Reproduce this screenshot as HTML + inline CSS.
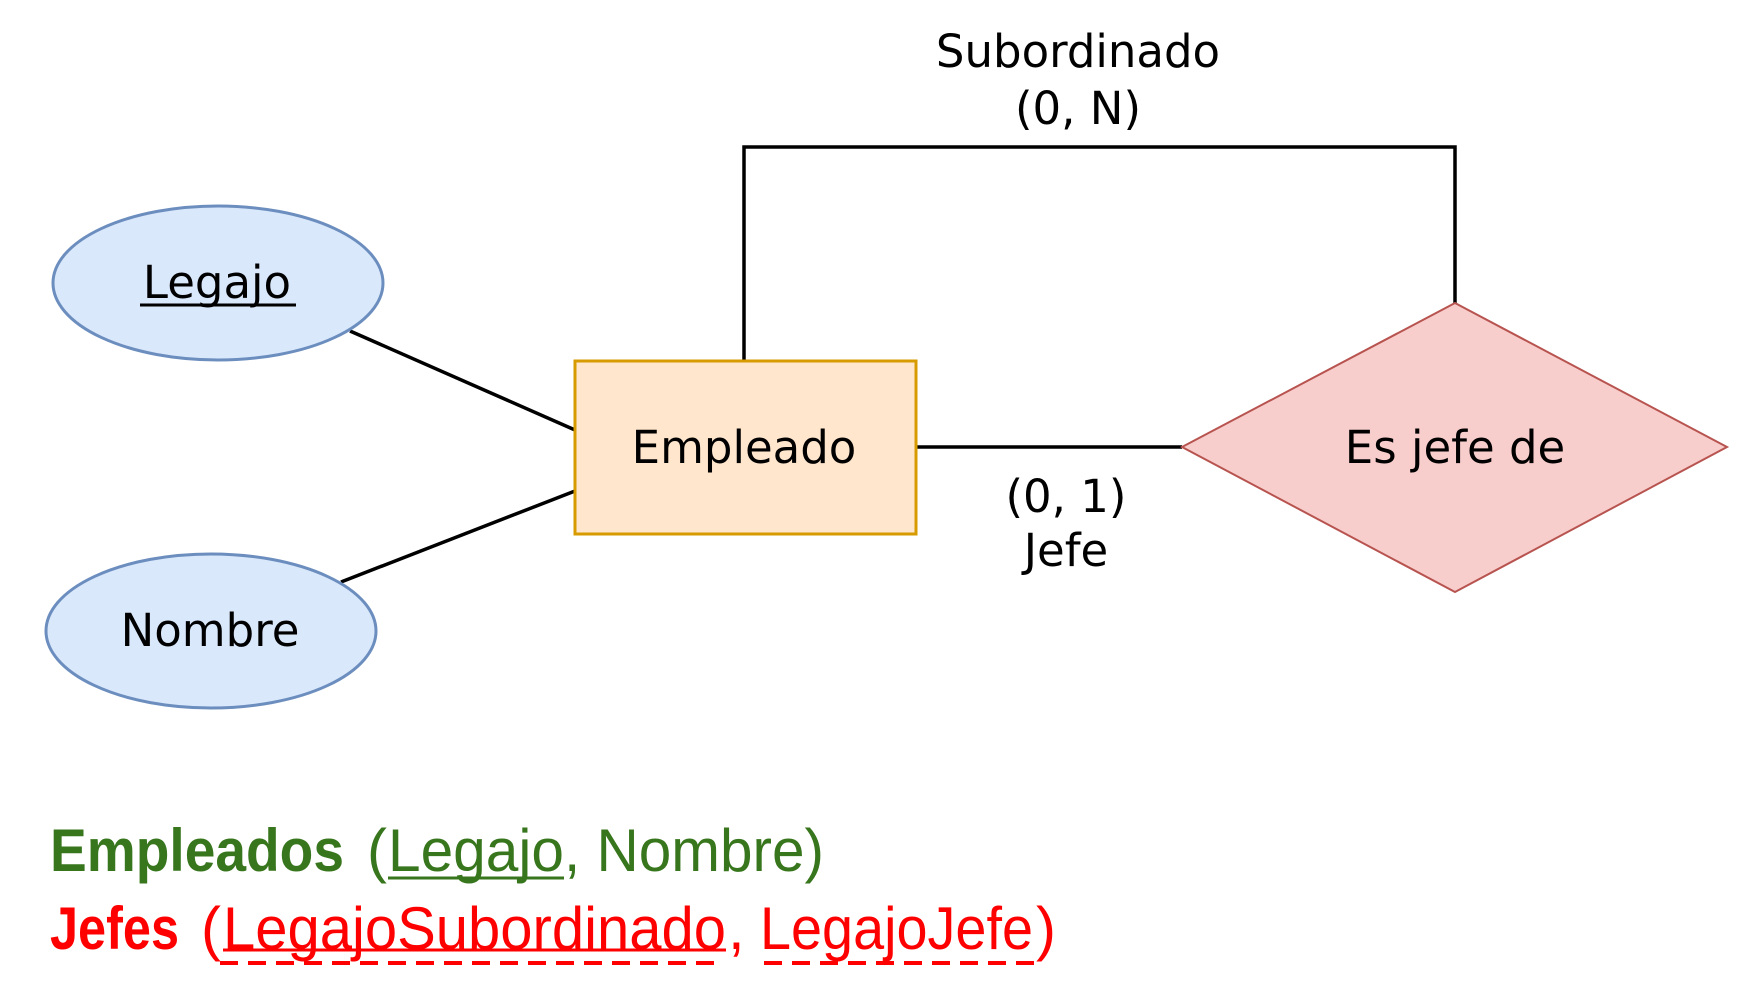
<!DOCTYPE html>
<html><head><meta charset="utf-8"><style>html,body{margin:0;padding:0;background:#fff}svg{display:block}</style></head>
<body>
<svg width="1743" height="997" viewBox="0 0 1743 997" xmlns="http://www.w3.org/2000/svg">
<g stroke="#000" stroke-width="3.5" fill="none">
<polyline points="744,361 744,147 1455,147 1455,303"/>
<line x1="916" y1="447" x2="1182" y2="447"/>
<line x1="350" y1="331" x2="575" y2="430"/>
<line x1="341" y1="582" x2="575" y2="491"/>
</g>
<ellipse cx="218" cy="283" rx="165" ry="77" fill="#dae8fc" stroke="#6c8ebf" stroke-width="3"/>
<ellipse cx="211" cy="631" rx="165" ry="77" fill="#dae8fc" stroke="#6c8ebf" stroke-width="3"/>
<rect x="575" y="361" width="341" height="173" fill="#ffe6cc" stroke="#d79b00" stroke-width="3"/>
<polygon points="1182,447 1455,303 1727,447 1455,592" fill="#f8cecc" stroke="#b85450" stroke-width="2"/>
<g font-family="DejaVu Sans, Verdana, sans-serif" font-size="45" text-anchor="middle" fill="#000">
<text x="217" y="298">Legajo</text>
<line x1="140" y1="305" x2="296" y2="305" stroke="#000" stroke-width="3"/>
<text x="210" y="646">Nombre</text>
<text x="744" y="463">Empleado</text>
<text x="1455" y="463">Es jefe de</text>
<text x="1078" y="67">Subordinado</text>
<text x="1078" y="124">(0, N)</text>
<text x="1066" y="512">(0, 1)</text>
<text x="1066" y="566">Jefe</text>
</g>
<g font-family="Liberation Sans, sans-serif" font-size="60">
<text y="871" fill="#38761d"><tspan x="50" font-weight="bold" textLength="294" lengthAdjust="spacingAndGlyphs">Empleados</tspan><tspan x="367">(</tspan><tspan x="388" textLength="176" lengthAdjust="spacingAndGlyphs">Legajo</tspan><tspan x="564" textLength="260" lengthAdjust="spacingAndGlyphs">, Nombre)</tspan></text>
<line x1="388" y1="878" x2="564" y2="878" stroke="#38761d" stroke-width="3"/>
<text y="949" fill="#ff0000"><tspan x="50" font-weight="bold" textLength="129" lengthAdjust="spacingAndGlyphs">Jefes</tspan><tspan x="201">(</tspan><tspan x="223" textLength="503" lengthAdjust="spacingAndGlyphs">LegajoSubordinado</tspan><tspan x="728">,</tspan><tspan x="760" textLength="273" lengthAdjust="spacingAndGlyphs">LegajoJefe</tspan><tspan x="1036">)</tspan></text>
<line x1="223" y1="950" x2="726" y2="950" stroke="#ff0000" stroke-width="3"/>
<line x1="220" y1="963" x2="714" y2="963" stroke="#ff0000" stroke-width="4" stroke-dasharray="18,10"/>
<line x1="764" y1="963" x2="1036" y2="963" stroke="#ff0000" stroke-width="4" stroke-dasharray="18,10"/>
</g>
</svg>
</body></html>
